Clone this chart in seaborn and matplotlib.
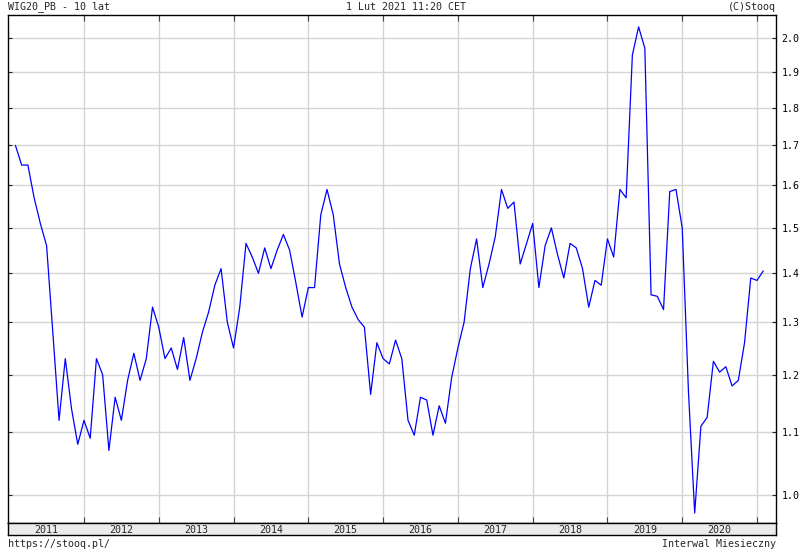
import matplotlib
matplotlib.use("Agg")
import matplotlib.pyplot as plt
import pandas as pd
import seaborn as sns
from matplotlib.ticker import FixedLocator, FixedFormatter, NullLocator

# ---- data: WIG20 P/BV, monthly (Feb 2011 .. Feb 2021) ----
pb_2011 = [1.70, 1.65, 1.65, 1.57, 1.51, 1.46, 1.28, 1.12, 1.23, 1.14, 1.08]  # Feb-Dec
pb_2012 = [1.12, 1.09, 1.23, 1.20, 1.07, 1.16, 1.12, 1.19, 1.24, 1.19, 1.23, 1.33]
pb_2013 = [1.29, 1.23, 1.25, 1.21, 1.27, 1.19, 1.23, 1.28, 1.32, 1.375, 1.41, 1.30]
pb_2014 = [1.25, 1.33, 1.465, 1.435, 1.40, 1.455, 1.41, 1.45, 1.485, 1.45, 1.38, 1.31]
pb_2015 = [1.37, 1.37, 1.53, 1.59, 1.53, 1.42, 1.37, 1.33, 1.305, 1.29, 1.165, 1.26]
pb_2016 = [1.23, 1.22, 1.265, 1.23, 1.12, 1.095, 1.16, 1.155, 1.095, 1.145, 1.115, 1.195]
pb_2017 = [1.25, 1.30, 1.41, 1.475, 1.37, 1.42, 1.48, 1.59, 1.545, 1.56, 1.42, 1.464]
pb_2018 = [1.51, 1.37, 1.46, 1.50, 1.44, 1.39, 1.465, 1.455, 1.41, 1.33, 1.385, 1.375]
pb_2019 = [1.475, 1.435, 1.59, 1.57, 1.95, 2.035, 1.97, 1.355, 1.352, 1.325, 1.585, 1.59]
pb_2020 = [1.50, 1.17, 0.973, 1.11, 1.125, 1.225, 1.205, 1.215, 1.18, 1.19, 1.26, 1.39]
pb_2021 = [1.385, 1.405]  # Jan-Feb

year_series = {2011: pb_2011, 2012: pb_2012, 2013: pb_2013, 2014: pb_2014,
               2015: pb_2015, 2016: pb_2016, 2017: pb_2017, 2018: pb_2018,
               2019: pb_2019, 2020: pb_2020, 2021: pb_2021}
first_month = {2011: 2}

year_labels = ["2011", "2012", "2013", "2014", "2015", "2016", "2017", "2018", "2019", "2020"]
y_ticks = [1.0, 1.1, 1.2, 1.3, 1.4, 1.5, 1.6, 1.7, 1.8, 1.9, 2.0]
y_tick_labels = ["1.0", "1.1", "1.2", "1.3", "1.4", "1.5", "1.6", "1.7", "1.8", "1.9", "2.0"]

# build table (time as fractional year)
t, v = [], []
for yr, vals in year_series.items():
    m0 = first_month.get(yr, 1)
    for i, val in enumerate(vals):
        t.append(yr + (m0 - 1 + i) / 12.0)
        v.append(val)
df = pd.DataFrame({"t": t, "pb": v})

sns.set_theme(style="white")
plt.rcParams["font.family"] = ["DejaVu Sans Mono", "DejaVu Sans"]
FS = 7.2

W, H = 800, 550
fig = plt.figure(figsize=(8, 5.5), dpi=100)
fig.patch.set_facecolor("white")

xl, xr = 8, 776
ytop, ybot, yband = 15, 523, 535
ax = fig.add_axes([xl / W, 1 - ybot / H, (xr - xl) / W, (ybot - ytop) / H])

sns.lineplot(data=df, x="t", y="pb", ax=ax, color="#0000ff", linewidth=0.9)

ax.set_yscale("log")
ax.set_xlim(2010.984, 2021.254)
ax.set_ylim(0.9584, 2.072)
ax.yaxis.set_major_locator(FixedLocator(y_ticks))
ax.yaxis.set_major_formatter(FixedFormatter(y_tick_labels))
ax.yaxis.set_minor_locator(NullLocator())
ax.xaxis.set_major_locator(FixedLocator(list(range(2012, 2022))))
ax.xaxis.set_minor_locator(NullLocator())
ax.set_xticklabels([])
ax.set_xlabel("")
ax.set_ylabel("")
ax.grid(True, color="#d4d4d4", linewidth=1.0)
ax.set_axisbelow(True)
ax.tick_params(axis="x", which="major", direction="in", length=4, width=0.8,
               color="#444444", top=True, bottom=True, labelbottom=False)
ax.tick_params(axis="y", which="major", direction="in", length=3, width=0.8,
               color="#222222", left=True, right=True, labelleft=False,
               labelright=True, pad=4, labelsize=FS, labelcolor="black")
for s in ax.spines.values():
    s.set_color("black")
    s.set_linewidth(1.0)
    s.set_visible(True)

# year band
band = fig.add_axes([xl / W, 1 - yband / H, (xr - xl) / W, (yband - ybot) / H])
band.set_facecolor("#ebebeb")
band.set_xlim(ax.get_xlim())
band.set_ylim(0, 1)
band.set_xticks([])
band.set_yticks([])
for s in band.spines.values():
    s.set_color("black")
    s.set_linewidth(1.0)
for lab in year_labels:
    band.text(int(lab) + 0.5, 0.45, lab, ha="center", va="center", fontsize=FS)

# header / footer texts
fig.text(xl / W, 1 - 7 / H, "WIG20_PB - 10 lat", ha="left", va="center", fontsize=FS)
fig.text(406 / W, 1 - 7 / H, "1 Lut 2021 11:20 CET", ha="center", va="center", fontsize=FS)
fig.text(xr / W, 1 - 7 / H, "(C)Stooq", ha="right", va="center", fontsize=FS)
fig.text(xl / W, 1 - 544 / H, "https://stooq.pl/", ha="left", va="center", fontsize=FS)
fig.text(xr / W, 1 - 544 / H, "Interwal Miesieczny", ha="right", va="center", fontsize=FS)

fig.savefig("out.png", dpi=100)
